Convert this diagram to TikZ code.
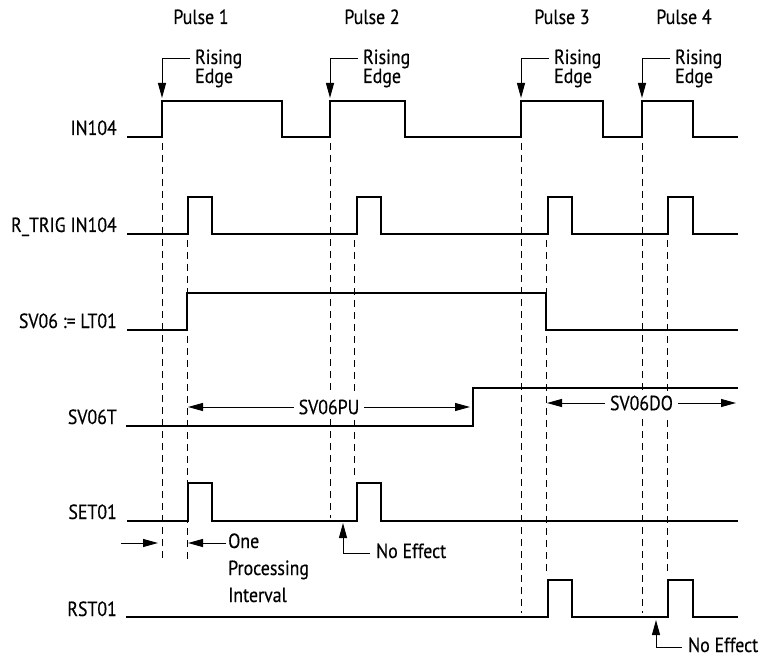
\documentclass[tikz,border=0pt]{standalone}
\usepackage{fontspec}
\setmainfont{PT Sans}[FakeStretch=0.87,FakeBold=0.4]
\usetikzlibrary{arrows.meta}
\begin{document}
\begin{tikzpicture}[x=1pt,y=-1pt,
  sig/.style={line width=1.2pt, line join=miter},
  guide/.style={line width=0.9pt, dash pattern=on 7pt off 5pt},
  lbl/.style={anchor=base east, inner sep=0pt, font=\fontsize{20.5}{22}\selectfont},
  txt/.style={anchor=base west, inner sep=0pt, font=\fontsize{20.5}{22}\selectfont},
  ctr/.style={anchor=base, inner sep=0pt, font=\fontsize{20.5}{22}\selectfont},
  tip/.style={line width=1pt, -{Triangle[length=15pt,width=8pt]}},
  dim/.style={line width=1pt, {Triangle[length=15pt,width=8pt]}-{Triangle[length=15pt,width=8pt]}},
  mid/.style={fill=white, inner sep=5pt, font=\fontsize{20.5}{22}\selectfont}]
\useasboundingbox (0,0) rectangle (772,658);

% signal labels
\node[lbl] (lin) at (117,135) {IN104};
\node[lbl] (lrt) at (117,232) {R\_TRIG IN104};
\node[lbl] (lsv) at (117,328) {SV06 := LT01};
\node[lbl] (lsvt) at (117,424) {SV06T};
\node[lbl] (lset) at (117,519) {SET01};
\node[lbl] (lrst) at (117,616) {RST01};

% guide lines
\foreach \x/\a/\b in {162/143/561, 187/240/561, 330/143/518, 354/240/478,
                      521/143/613, 546/240/575, 642/143/613, 667/240/575}
  \draw[guide] (\x,\a) -- (\x,\b);

% waveforms
\draw[sig] (127,137) -- (162,137) -- (162,101) -- (282,101) -- (282,137) -- (330,137)
  -- (330,101) -- (405,101) -- (405,137) -- (521,137) -- (521,101) -- (603,101)
  -- (603,137) -- (642,137) -- (642,101) -- (693,101) -- (693,137) -- (738,137);
\draw[sig] (127,234) -- (188,234) -- (188,197) -- (212,197) -- (212,234) -- (357,234)
  -- (357,197) -- (381,197) -- (381,234) -- (548,234) -- (548,197) -- (572,197)
  -- (572,234) -- (668,234) -- (668,197) -- (693,197) -- (693,234) -- (738,234);
\draw[sig] (127,330) -- (187,330) -- (187,293) -- (546,293) -- (546,330) -- (738,330);
\draw[sig] (126,426) -- (473,426) -- (473,388) -- (738,388);
\draw[sig] (127,521) -- (188,521) -- (188,483) -- (212,483) -- (212,521) -- (357,521)
  -- (357,483) -- (381,483) -- (381,521) -- (738,521);
\draw[sig] (126,617) -- (548,617) -- (548,580) -- (572,580) -- (572,617) -- (668,617)
  -- (668,580) -- (693,580) -- (693,617) -- (738,617);

% pulse titles
\node[ctr] (p1) at (201,24) {Pulse 1};
\node[ctr] (p2) at (372,24) {Pulse 2};
\node[ctr] (p3) at (562,24) {Pulse 3};
\node[ctr] (p4) at (684,24) {Pulse 4};

% rising edge callouts
\foreach \x/\n in {162/1,330/2,521/3,642/4}{
  \coordinate (rs\n) at (\x+28,59);
  \coordinate (re\n) at (\x,98);
  \draw[tip] (rs\n) -| (re\n);
  \node[txt] (ra\n) at (\x+33,64) {Rising};
  \node[txt] (rb\n) at (\x+33,83) {Edge};
}

% SV06PU / SV06DO
\coordinate (pua) at (188,407);
\coordinate (pub) at (470,407);
\draw[dim] (pua) -- node[mid] (pu) {SV06PU} (pub);
\coordinate (doa) at (547,403);
\coordinate (dob) at (736,403);
\draw[dim] (doa) -- node[mid] (do) {SV06DO} (dob);

% one processing interval
\coordinate (ia) at (121,543);
\coordinate (ib) at (158,543);
\coordinate (ic) at (226,543);
\coordinate (id) at (188,543);
\draw[tip] (ia) -- (ib);
\draw[tip] (ic) -- (id);
\node[txt] (o1) at (228,548) {One};
\node[txt] (o2) at (228,575) {Processing};
\node[txt] (o3) at (228,602) {Interval};

% no effect callouts
\coordinate (na) at (370,553);
\coordinate (nb) at (343,523);
\draw[tip] (na) -| (nb);
\node[txt] (ne1) at (376,558) {No Effect};
\coordinate (nc) at (682,647);
\coordinate (nd) at (656,620);
\draw[tip] (nc) -| (nd);
\node[txt] (ne2) at (688,652) {No Effect};
\end{tikzpicture}
\end{document}
